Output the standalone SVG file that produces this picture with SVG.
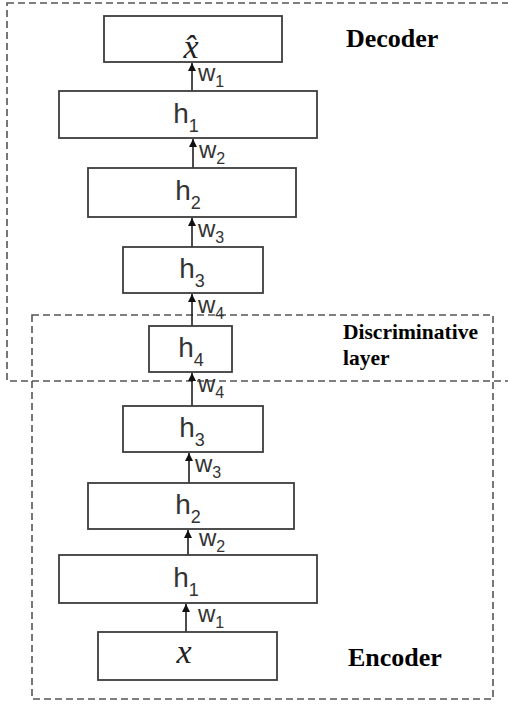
<svg xmlns="http://www.w3.org/2000/svg" width="508" height="706" viewBox="0 0 508 706">
  <style>
    .node { fill: #ffffff; stroke: #3c3c3c; stroke-width: 1.8; }
    .region { fill: none; stroke: #555555; stroke-width: 1.6; stroke-dasharray: 7 4; }
    .conn { stroke: #111111; stroke-width: 1.5; fill: none; marker-end: url(#arrow); }
    .h { font-family: "Liberation Sans", Arial, sans-serif; font-size: 28px; fill: #333333; }
    .sub { font-size: 18px; }
    .w { font-family: "Liberation Sans", Arial, sans-serif; font-size: 24px; fill: #333333; }
    .wsub { font-size: 16px; }
    .math { font-family: "Liberation Serif", "Times New Roman", serif; font-style: italic; font-size: 34px; fill: #222222; }
    .title { font-family: "Liberation Serif", "Times New Roman", serif; font-weight: bold; fill: #000000; }
  </style>
  <defs>
    <marker id="arrow" markerUnits="userSpaceOnUse" markerWidth="8" markerHeight="9" refX="8" refY="4" orient="auto">
      <path d="M0,0 L8,4 L0,8 z" fill="#111111"/>
    </marker>
  </defs>
  <rect width="508" height="706" fill="#ffffff"/>

  <g id="regions">
    <rect id="decoder-region" class="region" x="7" y="3" width="520" height="378"/>
    <rect id="encoder-region" class="region" x="32" y="315" width="461" height="384"/>
  </g>

  <g id="connectors">
    <line class="conn" x1="192" y1="91" x2="192" y2="63"/>
    <line class="conn" x1="193" y1="168" x2="193" y2="139"/>
    <line class="conn" x1="192" y1="247" x2="192" y2="218"/>
    <line class="conn" x1="192" y1="326" x2="192" y2="294"/>
    <line class="conn" x1="192" y1="406" x2="192" y2="373"/>
    <line class="conn" x1="189" y1="483" x2="189" y2="453"/>
    <line class="conn" x1="188" y1="555" x2="188" y2="530"/>
    <line class="conn" x1="186" y1="632" x2="186" y2="604"/>
    <text class="w" x="198" y="81">w<tspan class="wsub" dy="6">1</tspan></text>
    <text class="w" x="199" y="158">w<tspan class="wsub" dy="6">2</tspan></text>
    <text class="w" x="198" y="237">w<tspan class="wsub" dy="6">3</tspan></text>
    <text class="w" x="198" y="313">w<tspan class="wsub" dy="6">4</tspan></text>
    <text class="w" x="198" y="392">w<tspan class="wsub" dy="6">4</tspan></text>
    <text class="w" x="195" y="472">w<tspan class="wsub" dy="6">3</tspan></text>
    <text class="w" x="199" y="546">w<tspan class="wsub" dy="6">2</tspan></text>
    <text class="w" x="198" y="622">w<tspan class="wsub" dy="6">1</tspan></text>
  </g>

  <g id="node-xhat">
    <rect class="node" x="104" y="16" width="178" height="46"/>
    <text class="math" x="191" y="58" text-anchor="middle">x̂</text>
  </g>
  <g id="node-dec-h1">
    <rect class="node" x="59" y="91" width="258" height="47"/>
    <text class="h" x="186" y="123" text-anchor="middle">h<tspan class="sub" dy="9">1</tspan></text>
  </g>
  <g id="node-dec-h2">
    <rect class="node" x="88" y="168" width="208" height="49"/>
    <text class="h" x="188" y="200" text-anchor="middle">h<tspan class="sub" dy="9">2</tspan></text>
  </g>
  <g id="node-dec-h3">
    <rect class="node" x="123" y="247" width="140" height="46"/>
    <text class="h" x="192" y="278" text-anchor="middle">h<tspan class="sub" dy="9">3</tspan></text>
  </g>
  <g id="node-h4">
    <rect class="node" x="149" y="326" width="83" height="46"/>
    <text class="h" x="191" y="357" text-anchor="middle">h<tspan class="sub" dy="9">4</tspan></text>
  </g>
  <g id="node-enc-h3">
    <rect class="node" x="123" y="406" width="140" height="46"/>
    <text class="h" x="192" y="437" text-anchor="middle">h<tspan class="sub" dy="9">3</tspan></text>
  </g>
  <g id="node-enc-h2">
    <rect class="node" x="88" y="483" width="206" height="46"/>
    <text class="h" x="188" y="514" text-anchor="middle">h<tspan class="sub" dy="9">2</tspan></text>
  </g>
  <g id="node-enc-h1">
    <rect class="node" x="59" y="555" width="258" height="48"/>
    <text class="h" x="186" y="587" text-anchor="middle">h<tspan class="sub" dy="9">1</tspan></text>
  </g>
  <g id="node-x">
    <rect class="node" x="98" y="632" width="179" height="48"/>
    <text class="math" x="184" y="663" text-anchor="middle">x</text>
  </g>

  <g id="labels">
    <text class="title" x="346" y="47" font-size="26">Decoder</text>
    <text class="title" x="343" y="339" font-size="21.5">Discriminative</text>
    <text class="title" x="343" y="365" font-size="21.5">layer</text>
    <text class="title" x="348" y="666" font-size="26">Encoder</text>
  </g>
</svg>
